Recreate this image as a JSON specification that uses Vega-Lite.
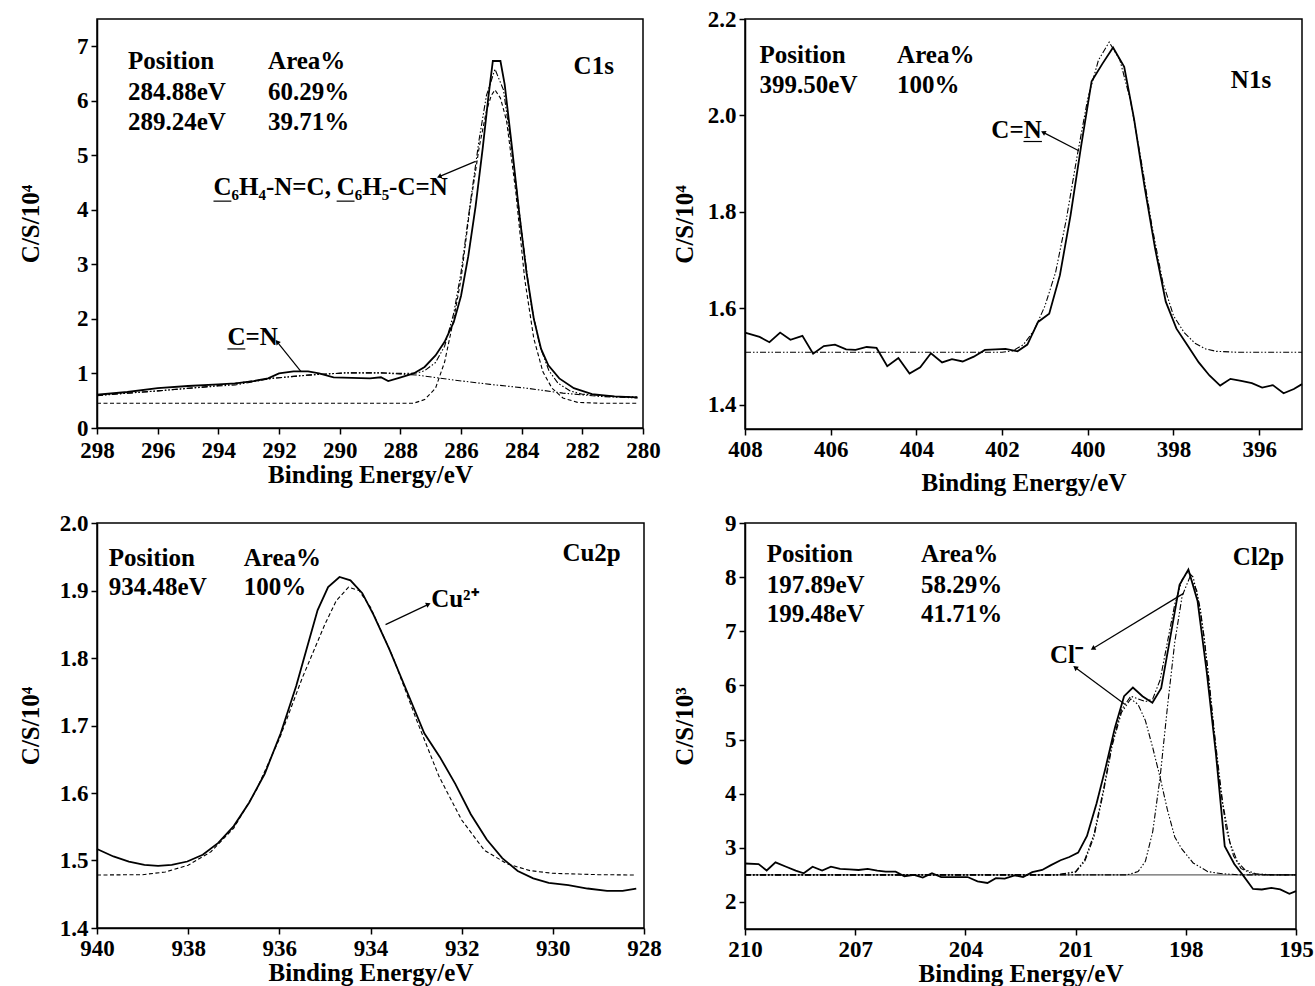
{
  "$schema": "https://vega.github.io/schema/vega-lite/v6.json",
  "background": "white",
  "padding": {"left": 17, "top": 7, "right": 0, "bottom": 0},
  "config": {
    "font": "Liberation Serif",
    "view": {"stroke": "black", "strokeWidth": 1.5},
    "axis": {
      "grid": false,
      "domainColor": "black",
      "domainWidth": 1.5,
      "tickColor": "black",
      "tickWidth": 1.5,
      "tickSize": 6,
      "labelFont": "Liberation Serif",
      "labelFontSize": 23,
      "labelFontWeight": "bold",
      "labelColor": "black",
      "labelPadding": 3,
      "labelFlush": false,
      "labelOverlap": false,
      "titleFont": "Liberation Serif",
      "titleFontSize": 25,
      "titleFontWeight": "bold",
      "titleColor": "black"
    },
    "text": {"font": "Liberation Serif", "fontWeight": "bold", "color": "black", "fontSize": 25},
    "line": {"color": "black"},
    "rule": {"color": "black", "strokeWidth": 1.2}
  },
  "datasets": {
    "c1s": [
      {"s": "measured", "e": 298, "v": 0.61}, {"s": "measured", "e": 297, "v": 0.66}, {"s": "measured", "e": 296, "v": 0.73},
      {"s": "measured", "e": 295, "v": 0.77}, {"s": "measured", "e": 294, "v": 0.8}, {"s": "measured", "e": 293.44, "v": 0.82},
      {"s": "measured", "e": 292.84, "v": 0.86}, {"s": "measured", "e": 292.36, "v": 0.91}, {"s": "measured", "e": 292.0, "v": 1.0},
      {"s": "measured", "e": 291.52, "v": 1.04}, {"s": "measured", "e": 291.04, "v": 1.04}, {"s": "measured", "e": 290.68, "v": 1.0},
      {"s": "measured", "e": 290.2, "v": 0.93}, {"s": "measured", "e": 289.6, "v": 0.92}, {"s": "measured", "e": 289.0, "v": 0.91},
      {"s": "measured", "e": 288.64, "v": 0.93}, {"s": "measured", "e": 288.4, "v": 0.86}, {"s": "measured", "e": 288.04, "v": 0.92},
      {"s": "measured", "e": 287.56, "v": 1.0}, {"s": "measured", "e": 287.2, "v": 1.12}, {"s": "measured", "e": 286.84, "v": 1.33},
      {"s": "measured", "e": 286.54, "v": 1.58}, {"s": "measured", "e": 286.24, "v": 1.94}, {"s": "measured", "e": 286.0, "v": 2.42},
      {"s": "measured", "e": 285.76, "v": 3.15}, {"s": "measured", "e": 285.52, "v": 4.06}, {"s": "measured", "e": 285.28, "v": 5.15},
      {"s": "measured", "e": 285.1, "v": 6.06}, {"s": "measured", "e": 284.95, "v": 6.73}, {"s": "measured", "e": 284.7, "v": 6.73},
      {"s": "measured", "e": 284.56, "v": 6.3}, {"s": "measured", "e": 284.32, "v": 5.15}, {"s": "measured", "e": 284.08, "v": 3.94},
      {"s": "measured", "e": 283.84, "v": 2.85}, {"s": "measured", "e": 283.6, "v": 2.0}, {"s": "measured", "e": 283.36, "v": 1.45},
      {"s": "measured", "e": 283.12, "v": 1.15}, {"s": "measured", "e": 282.76, "v": 0.91}, {"s": "measured", "e": 282.28, "v": 0.73},
      {"s": "measured", "e": 281.68, "v": 0.62}, {"s": "measured", "e": 280.96, "v": 0.58}, {"s": "measured", "e": 280.18, "v": 0.56},

      {"s": "envelope", "e": 298, "v": 0.6}, {"s": "envelope", "e": 296, "v": 0.68}, {"s": "envelope", "e": 294, "v": 0.78},
      {"s": "envelope", "e": 292.24, "v": 0.91}, {"s": "envelope", "e": 291.04, "v": 0.97}, {"s": "envelope", "e": 289.84, "v": 1.01},
      {"s": "envelope", "e": 288.64, "v": 1.01}, {"s": "envelope", "e": 287.8, "v": 1.0}, {"s": "envelope", "e": 287.44, "v": 1.01},
      {"s": "envelope", "e": 287.2, "v": 1.05}, {"s": "envelope", "e": 286.84, "v": 1.2}, {"s": "envelope", "e": 286.54, "v": 1.5},
      {"s": "envelope", "e": 286.24, "v": 2.1}, {"s": "envelope", "e": 286.0, "v": 2.85}, {"s": "envelope", "e": 285.7, "v": 4.1},
      {"s": "envelope", "e": 285.4, "v": 5.3}, {"s": "envelope", "e": 285.16, "v": 6.1}, {"s": "envelope", "e": 284.88, "v": 6.58},
      {"s": "envelope", "e": 284.6, "v": 6.2}, {"s": "envelope", "e": 284.3, "v": 5.0}, {"s": "envelope", "e": 284.0, "v": 3.6},
      {"s": "envelope", "e": 283.7, "v": 2.3}, {"s": "envelope", "e": 283.4, "v": 1.5}, {"s": "envelope", "e": 283.1, "v": 1.05},
      {"s": "envelope", "e": 282.8, "v": 0.82}, {"s": "envelope", "e": 282.4, "v": 0.68}, {"s": "envelope", "e": 282.0, "v": 0.62},
      {"s": "envelope", "e": 281.0, "v": 0.58}, {"s": "envelope", "e": 280.18, "v": 0.57},

      {"s": "284.88 eV", "e": 298, "v": 0.455}, {"s": "284.88 eV", "e": 287.56, "v": 0.455}, {"s": "284.88 eV", "e": 287.2, "v": 0.52},
      {"s": "284.88 eV", "e": 286.84, "v": 0.73}, {"s": "284.88 eV", "e": 286.54, "v": 1.21}, {"s": "284.88 eV", "e": 286.24, "v": 2.0},
      {"s": "284.88 eV", "e": 286.0, "v": 2.73}, {"s": "284.88 eV", "e": 285.7, "v": 4.06}, {"s": "284.88 eV", "e": 285.4, "v": 5.15},
      {"s": "284.88 eV", "e": 285.16, "v": 5.82}, {"s": "284.88 eV", "e": 285.0, "v": 6.1}, {"s": "284.88 eV", "e": 284.88, "v": 6.2},
      {"s": "284.88 eV", "e": 284.7, "v": 6.05}, {"s": "284.88 eV", "e": 284.5, "v": 5.64}, {"s": "284.88 eV", "e": 284.2, "v": 4.36},
      {"s": "284.88 eV", "e": 283.9, "v": 2.73}, {"s": "284.88 eV", "e": 283.6, "v": 1.64}, {"s": "284.88 eV", "e": 283.3, "v": 1.03},
      {"s": "284.88 eV", "e": 283.0, "v": 0.73}, {"s": "284.88 eV", "e": 282.64, "v": 0.55}, {"s": "284.88 eV", "e": 282.16, "v": 0.47},
      {"s": "284.88 eV", "e": 281.44, "v": 0.455}, {"s": "284.88 eV", "e": 280.18, "v": 0.455},

      {"s": "289.24 eV", "e": 298, "v": 0.594}, {"s": "289.24 eV", "e": 296, "v": 0.68}, {"s": "289.24 eV", "e": 294, "v": 0.77},
      {"s": "289.24 eV", "e": 293.44, "v": 0.79}, {"s": "289.24 eV", "e": 292.24, "v": 0.91}, {"s": "289.24 eV", "e": 291.04, "v": 0.97},
      {"s": "289.24 eV", "e": 289.84, "v": 1.01}, {"s": "289.24 eV", "e": 288.64, "v": 1.01}, {"s": "289.24 eV", "e": 287.44, "v": 0.97},
      {"s": "289.24 eV", "e": 286.24, "v": 0.88}, {"s": "289.24 eV", "e": 285.04, "v": 0.8}, {"s": "289.24 eV", "e": 283.84, "v": 0.73},
      {"s": "289.24 eV", "e": 282.64, "v": 0.64}, {"s": "289.24 eV", "e": 281.44, "v": 0.58}, {"s": "289.24 eV", "e": 280.18, "v": 0.55}
    ],
    "c1s_notes": [
      {"role": "note", "t": "Position", "e": 296.98, "v": 6.73},
      {"role": "note", "t": "Area%", "e": 292.36, "v": 6.73},
      {"role": "note", "t": "284.88eV", "e": 296.98, "v": 6.17},
      {"role": "note", "t": "60.29%", "e": 292.36, "v": 6.17},
      {"role": "note", "t": "289.24eV", "e": 296.98, "v": 5.62},
      {"role": "note", "t": "39.71%", "e": 292.36, "v": 5.62},
      {"role": "note", "t": "C₆H₄-N=C,", "e": 294.16, "v": 4.42},
      {"role": "note", "t": "C₆H₅-C=N", "e": 290.1, "v": 4.42},
      {"role": "note", "t": "C=N", "e": 293.7, "v": 1.67},
      {"role": "tag", "t": "C1s", "e": 280.96, "v": 6.64}
    ],
    "c1s_marks": [
      {"e": 285.52, "v": 4.89, "e2": 286.72, "v2": 4.61, "dir": 247},
      {"e": 291.28, "v": 1.04, "e2": 292.06, "v2": 1.58, "dir": 321},
      {"e": 294.16, "v": 4.16, "e2": 293.57, "v2": 4.16},
      {"e": 290.1, "v": 4.16, "e2": 289.51, "v2": 4.16},
      {"e": 293.7, "v": 1.45, "e2": 293.11, "v2": 1.45}
    ],
    "n1s": [
      {"s": "measured", "e": 408, "v": 1.55}, {"s": "measured", "e": 407.66, "v": 1.541}, {"s": "measured", "e": 407.43, "v": 1.53},
      {"s": "measured", "e": 407.18, "v": 1.55}, {"s": "measured", "e": 406.94, "v": 1.535}, {"s": "measured", "e": 406.66, "v": 1.543},
      {"s": "measured", "e": 406.41, "v": 1.506}, {"s": "measured", "e": 406.16, "v": 1.522}, {"s": "measured", "e": 405.9, "v": 1.525},
      {"s": "measured", "e": 405.64, "v": 1.515}, {"s": "measured", "e": 405.42, "v": 1.514}, {"s": "measured", "e": 405.16, "v": 1.52},
      {"s": "measured", "e": 404.93, "v": 1.518}, {"s": "measured", "e": 404.68, "v": 1.48}, {"s": "measured", "e": 404.42, "v": 1.497},
      {"s": "measured", "e": 404.16, "v": 1.465}, {"s": "measured", "e": 403.91, "v": 1.478}, {"s": "measured", "e": 403.66, "v": 1.507},
      {"s": "measured", "e": 403.4, "v": 1.488}, {"s": "measured", "e": 403.17, "v": 1.495}, {"s": "measured", "e": 402.92, "v": 1.49},
      {"s": "measured", "e": 402.66, "v": 1.5}, {"s": "measured", "e": 402.4, "v": 1.514}, {"s": "measured", "e": 402.15, "v": 1.515},
      {"s": "measured", "e": 401.92, "v": 1.516}, {"s": "measured", "e": 401.64, "v": 1.511}, {"s": "measured", "e": 401.41, "v": 1.525},
      {"s": "measured", "e": 401.16, "v": 1.572}, {"s": "measured", "e": 400.9, "v": 1.589}, {"s": "measured", "e": 400.65, "v": 1.669},
      {"s": "measured", "e": 400.4, "v": 1.794}, {"s": "measured", "e": 400.16, "v": 1.934}, {"s": "measured", "e": 399.91, "v": 2.071},
      {"s": "measured", "e": 399.66, "v": 2.107}, {"s": "measured", "e": 399.41, "v": 2.141}, {"s": "measured", "e": 399.15, "v": 2.101},
      {"s": "measured", "e": 398.92, "v": 1.993}, {"s": "measured", "e": 398.67, "v": 1.85}, {"s": "measured", "e": 398.43, "v": 1.725},
      {"s": "measured", "e": 398.18, "v": 1.614}, {"s": "measured", "e": 397.93, "v": 1.558}, {"s": "measured", "e": 397.67, "v": 1.523},
      {"s": "measured", "e": 397.41, "v": 1.488}, {"s": "measured", "e": 397.16, "v": 1.461}, {"s": "measured", "e": 396.91, "v": 1.44},
      {"s": "measured", "e": 396.67, "v": 1.454}, {"s": "measured", "e": 396.42, "v": 1.45}, {"s": "measured", "e": 396.17, "v": 1.445},
      {"s": "measured", "e": 395.93, "v": 1.436}, {"s": "measured", "e": 395.68, "v": 1.441}, {"s": "measured", "e": 395.43, "v": 1.424},
      {"s": "measured", "e": 395.19, "v": 1.433}, {"s": "measured", "e": 395.0, "v": 1.443},

      {"s": "399.50 eV", "e": 408, "v": 1.509}, {"s": "399.50 eV", "e": 402, "v": 1.509}, {"s": "399.50 eV", "e": 401.75, "v": 1.512},
      {"s": "399.50 eV", "e": 401.5, "v": 1.525}, {"s": "399.50 eV", "e": 401.25, "v": 1.555}, {"s": "399.50 eV", "e": 401.0, "v": 1.605},
      {"s": "399.50 eV", "e": 400.75, "v": 1.675}, {"s": "399.50 eV", "e": 400.5, "v": 1.785}, {"s": "399.50 eV", "e": 400.25, "v": 1.915},
      {"s": "399.50 eV", "e": 400.0, "v": 2.035}, {"s": "399.50 eV", "e": 399.75, "v": 2.115}, {"s": "399.50 eV", "e": 399.5, "v": 2.152},
      {"s": "399.50 eV", "e": 399.25, "v": 2.115}, {"s": "399.50 eV", "e": 399.0, "v": 2.03}, {"s": "399.50 eV", "e": 398.75, "v": 1.905},
      {"s": "399.50 eV", "e": 398.5, "v": 1.77}, {"s": "399.50 eV", "e": 398.25, "v": 1.655}, {"s": "399.50 eV", "e": 398.0, "v": 1.585},
      {"s": "399.50 eV", "e": 397.75, "v": 1.55}, {"s": "399.50 eV", "e": 397.5, "v": 1.528}, {"s": "399.50 eV", "e": 397.25, "v": 1.516},
      {"s": "399.50 eV", "e": 397.0, "v": 1.511}, {"s": "399.50 eV", "e": 396.5, "v": 1.509}, {"s": "399.50 eV", "e": 395, "v": 1.509}
    ],
    "n1s_notes": [
      {"role": "note", "t": "Position", "e": 407.66, "v": 2.125},
      {"role": "note", "t": "Area%", "e": 404.45, "v": 2.125},
      {"role": "note", "t": "399.50eV", "e": 407.66, "v": 2.064},
      {"role": "note", "t": "100%", "e": 404.45, "v": 2.064},
      {"role": "note", "t": "C=N", "e": 402.25, "v": 1.97},
      {"role": "tag", "t": "N1s", "e": 395.72, "v": 2.074}
    ],
    "n1s_marks": [
      {"e": 400.21, "v": 1.927, "e2": 401.04, "v2": 1.965, "dir": 297},
      {"e": 401.5, "v": 1.946, "e2": 401.07, "v2": 1.946}
    ],
    "cu2p": [
      {"s": "measured", "e": 940, "v": 1.517}, {"s": "measured", "e": 939.64, "v": 1.506}, {"s": "measured", "e": 939.3, "v": 1.4985},
      {"s": "measured", "e": 938.96, "v": 1.4935}, {"s": "measured", "e": 938.66, "v": 1.492}, {"s": "measured", "e": 938.36, "v": 1.4935},
      {"s": "measured", "e": 938.02, "v": 1.4985}, {"s": "measured", "e": 937.68, "v": 1.5085}, {"s": "measured", "e": 937.34, "v": 1.526},
      {"s": "measured", "e": 937.0, "v": 1.551}, {"s": "measured", "e": 936.66, "v": 1.586}, {"s": "measured", "e": 936.32, "v": 1.6285},
      {"s": "measured", "e": 935.97, "v": 1.6885}, {"s": "measured", "e": 935.63, "v": 1.7585}, {"s": "measured", "e": 935.38, "v": 1.8185},
      {"s": "measured", "e": 935.16, "v": 1.871}, {"s": "measured", "e": 934.93, "v": 1.905}, {"s": "measured", "e": 934.68, "v": 1.92},
      {"s": "measured", "e": 934.44, "v": 1.915}, {"s": "measured", "e": 934.18, "v": 1.896}, {"s": "measured", "e": 933.93, "v": 1.8635},
      {"s": "measured", "e": 933.59, "v": 1.8135}, {"s": "measured", "e": 933.25, "v": 1.7585}, {"s": "measured", "e": 932.82, "v": 1.6885},
      {"s": "measured", "e": 932.48, "v": 1.6535}, {"s": "measured", "e": 932.14, "v": 1.6135}, {"s": "measured", "e": 931.8, "v": 1.5685},
      {"s": "measured", "e": 931.45, "v": 1.531}, {"s": "measured", "e": 931.11, "v": 1.5035}, {"s": "measured", "e": 930.77, "v": 1.4845},
      {"s": "measured", "e": 930.43, "v": 1.4735}, {"s": "measured", "e": 930.09, "v": 1.467}, {"s": "measured", "e": 929.66, "v": 1.4635},
      {"s": "measured", "e": 929.24, "v": 1.4585}, {"s": "measured", "e": 928.81, "v": 1.455}, {"s": "measured", "e": 928.47, "v": 1.455},
      {"s": "measured", "e": 928.17, "v": 1.4585},

      {"s": "934.48 eV", "e": 940, "v": 1.4785}, {"s": "934.48 eV", "e": 939, "v": 1.479}, {"s": "934.48 eV", "e": 938.5, "v": 1.483},
      {"s": "934.48 eV", "e": 938, "v": 1.493}, {"s": "934.48 eV", "e": 937.5, "v": 1.513}, {"s": "934.48 eV", "e": 937, "v": 1.548},
      {"s": "934.48 eV", "e": 936.5, "v": 1.605}, {"s": "934.48 eV", "e": 936, "v": 1.68}, {"s": "934.48 eV", "e": 935.5, "v": 1.77},
      {"s": "934.48 eV", "e": 935, "v": 1.85}, {"s": "934.48 eV", "e": 934.75, "v": 1.885}, {"s": "934.48 eV", "e": 934.48, "v": 1.905},
      {"s": "934.48 eV", "e": 934.25, "v": 1.9}, {"s": "934.48 eV", "e": 934, "v": 1.875}, {"s": "934.48 eV", "e": 933.5, "v": 1.8},
      {"s": "934.48 eV", "e": 933, "v": 1.71}, {"s": "934.48 eV", "e": 932.5, "v": 1.625}, {"s": "934.48 eV", "e": 932, "v": 1.56},
      {"s": "934.48 eV", "e": 931.5, "v": 1.515}, {"s": "934.48 eV", "e": 931, "v": 1.495}, {"s": "934.48 eV", "e": 930.5, "v": 1.485},
      {"s": "934.48 eV", "e": 930, "v": 1.481}, {"s": "934.48 eV", "e": 929, "v": 1.479}, {"s": "934.48 eV", "e": 928.2, "v": 1.4785}
    ],
    "cu2p_notes": [
      {"role": "note", "t": "Position", "e": 939.74, "v": 1.9485},
      {"role": "note", "t": "Area%", "e": 936.78, "v": 1.9485},
      {"role": "note", "t": "934.48eV", "e": 939.74, "v": 1.9045},
      {"role": "note", "t": "100%", "e": 936.78, "v": 1.9045},
      {"role": "note", "t": "Cu²⁺", "e": 932.67, "v": 1.888},
      {"role": "tag", "t": "Cu2p", "e": 928.51, "v": 1.956}
    ],
    "cu2p_marks": [
      {"e": 933.67, "v": 1.8495, "e2": 932.73, "v2": 1.8795, "dir": 65}
    ],
    "cl2p": [
      {"s": "measured", "e": 210, "v": 2.71}, {"s": "measured", "e": 209.63, "v": 2.7}, {"s": "measured", "e": 209.41, "v": 2.58},
      {"s": "measured", "e": 209.17, "v": 2.73}, {"s": "measured", "e": 208.88, "v": 2.65}, {"s": "measured", "e": 208.62, "v": 2.58},
      {"s": "measured", "e": 208.4, "v": 2.53}, {"s": "measured", "e": 208.16, "v": 2.65}, {"s": "measured", "e": 207.9, "v": 2.58},
      {"s": "measured", "e": 207.66, "v": 2.65}, {"s": "measured", "e": 207.41, "v": 2.61}, {"s": "measured", "e": 207.16, "v": 2.6},
      {"s": "measured", "e": 206.91, "v": 2.59}, {"s": "measured", "e": 206.66, "v": 2.61}, {"s": "measured", "e": 206.4, "v": 2.58},
      {"s": "measured", "e": 206.17, "v": 2.56}, {"s": "measured", "e": 205.9, "v": 2.56}, {"s": "measured", "e": 205.66, "v": 2.475},
      {"s": "measured", "e": 205.4, "v": 2.5}, {"s": "measured", "e": 205.16, "v": 2.45}, {"s": "measured", "e": 204.91, "v": 2.53},
      {"s": "measured", "e": 204.66, "v": 2.46}, {"s": "measured", "e": 204.41, "v": 2.46}, {"s": "measured", "e": 204.17, "v": 2.46},
      {"s": "measured", "e": 203.94, "v": 2.46}, {"s": "measured", "e": 203.67, "v": 2.38}, {"s": "measured", "e": 203.4, "v": 2.35},
      {"s": "measured", "e": 203.17, "v": 2.44}, {"s": "measured", "e": 202.93, "v": 2.43}, {"s": "measured", "e": 202.66, "v": 2.49},
      {"s": "measured", "e": 202.43, "v": 2.46}, {"s": "measured", "e": 202.18, "v": 2.55}, {"s": "measured", "e": 201.91, "v": 2.59},
      {"s": "measured", "e": 201.67, "v": 2.68}, {"s": "measured", "e": 201.41, "v": 2.77}, {"s": "measured", "e": 201.17, "v": 2.83},
      {"s": "measured", "e": 200.93, "v": 2.91}, {"s": "measured", "e": 200.69, "v": 3.22}, {"s": "measured", "e": 200.43, "v": 3.82},
      {"s": "measured", "e": 200.18, "v": 4.49}, {"s": "measured", "e": 199.93, "v": 5.22}, {"s": "measured", "e": 199.68, "v": 5.8},
      {"s": "measured", "e": 199.44, "v": 5.96}, {"s": "measured", "e": 199.18, "v": 5.8}, {"s": "measured", "e": 198.91, "v": 5.68},
      {"s": "measured", "e": 198.67, "v": 5.95}, {"s": "measured", "e": 198.43, "v": 6.86}, {"s": "measured", "e": 198.17, "v": 7.86},
      {"s": "measured", "e": 197.93, "v": 8.14}, {"s": "measured", "e": 197.68, "v": 7.56}, {"s": "measured", "e": 197.43, "v": 6.25},
      {"s": "measured", "e": 197.18, "v": 4.74}, {"s": "measured", "e": 196.94, "v": 3.03}, {"s": "measured", "e": 196.68, "v": 2.7},
      {"s": "measured", "e": 196.44, "v": 2.49}, {"s": "measured", "e": 196.17, "v": 2.24}, {"s": "measured", "e": 195.93, "v": 2.23},
      {"s": "measured", "e": 195.67, "v": 2.26}, {"s": "measured", "e": 195.43, "v": 2.23}, {"s": "measured", "e": 195.18, "v": 2.15},
      {"s": "measured", "e": 195.0, "v": 2.2},

      {"s": "background", "e": 210, "v": 2.5}, {"s": "background", "e": 195, "v": 2.5},

      {"s": "envelope", "e": 210, "v": 2.5}, {"s": "envelope", "e": 201.5, "v": 2.5}, {"s": "envelope", "e": 201.0, "v": 2.56},
      {"s": "envelope", "e": 200.75, "v": 2.78}, {"s": "envelope", "e": 200.5, "v": 3.25}, {"s": "envelope", "e": 200.25, "v": 4.05},
      {"s": "envelope", "e": 200.0, "v": 4.95}, {"s": "envelope", "e": 199.75, "v": 5.55}, {"s": "envelope", "e": 199.5, "v": 5.8},
      {"s": "envelope", "e": 199.3, "v": 5.75}, {"s": "envelope", "e": 199.1, "v": 5.7}, {"s": "envelope", "e": 198.9, "v": 5.75},
      {"s": "envelope", "e": 198.7, "v": 6.1}, {"s": "envelope", "e": 198.5, "v": 6.8}, {"s": "envelope", "e": 198.3, "v": 7.5},
      {"s": "envelope", "e": 198.1, "v": 7.95}, {"s": "envelope", "e": 197.95, "v": 8.1}, {"s": "envelope", "e": 197.8, "v": 8.0},
      {"s": "envelope", "e": 197.6, "v": 7.4}, {"s": "envelope", "e": 197.4, "v": 6.3}, {"s": "envelope", "e": 197.2, "v": 5.0},
      {"s": "envelope", "e": 197.0, "v": 3.85}, {"s": "envelope", "e": 196.8, "v": 3.1}, {"s": "envelope", "e": 196.6, "v": 2.75},
      {"s": "envelope", "e": 196.4, "v": 2.6}, {"s": "envelope", "e": 196.1, "v": 2.52}, {"s": "envelope", "e": 195.6, "v": 2.5},
      {"s": "envelope", "e": 195, "v": 2.5},

      {"s": "199.48 eV", "e": 210, "v": 2.5}, {"s": "199.48 eV", "e": 201.5, "v": 2.5}, {"s": "199.48 eV", "e": 201.0, "v": 2.55},
      {"s": "199.48 eV", "e": 200.75, "v": 2.75}, {"s": "199.48 eV", "e": 200.5, "v": 3.2}, {"s": "199.48 eV", "e": 200.25, "v": 4.0},
      {"s": "199.48 eV", "e": 200.0, "v": 4.9}, {"s": "199.48 eV", "e": 199.75, "v": 5.5}, {"s": "199.48 eV", "e": 199.5, "v": 5.75},
      {"s": "199.48 eV", "e": 199.3, "v": 5.65}, {"s": "199.48 eV", "e": 199.1, "v": 5.35}, {"s": "199.48 eV", "e": 198.9, "v": 4.85},
      {"s": "199.48 eV", "e": 198.7, "v": 4.3}, {"s": "199.48 eV", "e": 198.5, "v": 3.7}, {"s": "199.48 eV", "e": 198.3, "v": 3.2},
      {"s": "199.48 eV", "e": 198.1, "v": 2.97}, {"s": "199.48 eV", "e": 197.8, "v": 2.72}, {"s": "199.48 eV", "e": 197.4, "v": 2.56},
      {"s": "199.48 eV", "e": 197.0, "v": 2.52}, {"s": "199.48 eV", "e": 196.5, "v": 2.5}, {"s": "199.48 eV", "e": 195, "v": 2.5},

      {"s": "197.89 eV", "e": 210, "v": 2.5}, {"s": "197.89 eV", "e": 199.6, "v": 2.5}, {"s": "197.89 eV", "e": 199.3, "v": 2.56},
      {"s": "197.89 eV", "e": 199.1, "v": 2.75}, {"s": "197.89 eV", "e": 198.9, "v": 3.3}, {"s": "197.89 eV", "e": 198.7, "v": 4.3},
      {"s": "197.89 eV", "e": 198.5, "v": 5.6}, {"s": "197.89 eV", "e": 198.3, "v": 6.8}, {"s": "197.89 eV", "e": 198.1, "v": 7.65},
      {"s": "197.89 eV", "e": 197.89, "v": 8.0}, {"s": "197.89 eV", "e": 197.7, "v": 7.75}, {"s": "197.89 eV", "e": 197.5, "v": 6.9},
      {"s": "197.89 eV", "e": 197.3, "v": 5.6}, {"s": "197.89 eV", "e": 197.1, "v": 4.3}, {"s": "197.89 eV", "e": 196.9, "v": 3.35},
      {"s": "197.89 eV", "e": 196.7, "v": 2.85}, {"s": "197.89 eV", "e": 196.5, "v": 2.62}, {"s": "197.89 eV", "e": 196.2, "v": 2.52},
      {"s": "197.89 eV", "e": 195.8, "v": 2.5}, {"s": "197.89 eV", "e": 195, "v": 2.5}
    ],
    "cl2p_notes": [
      {"role": "note", "t": "Position", "e": 209.41, "v": 8.42},
      {"role": "note", "t": "Area%", "e": 205.21, "v": 8.42},
      {"role": "note", "t": "197.89eV", "e": 209.41, "v": 7.85},
      {"role": "note", "t": "58.29%", "e": 205.21, "v": 7.85},
      {"role": "note", "t": "199.48eV", "e": 209.41, "v": 7.32},
      {"role": "note", "t": "41.71%", "e": 205.21, "v": 7.32},
      {"role": "note", "t": "Cl⁻", "e": 201.7, "v": 6.56},
      {"role": "tag", "t": "Cl2p", "e": 195.32, "v": 8.38}
    ],
    "cl2p_marks": [
      {"e": 198.06, "v": 7.7, "e2": 200.53, "v2": 6.68, "dir": 238},
      {"e": 199.66, "v": 5.65, "e2": 201.01, "v2": 6.33, "dir": 307}
    ]
  },
  "columns": 2,
  "spacing": {"row": 15, "column": 9},
  "concat": [
    {
      "width": 546,
      "height": 409,
      "layer": [
        {
          "data": {"name": "c1s"},
          "transform": [{"filter": "datum.s !== 'measured'"}],
          "mark": {"type": "line", "color": "black", "strokeWidth": 1.1},
          "encoding": {
            "x": {"field": "e", "type": "quantitative",
              "scale": {"domain": [280, 298], "reverse": true, "nice": false, "zero": false},
              "axis": {"title": "Binding Energy/eV", "values": [298, 296, 294, 292, 290, 288, 286, 284, 282, 280], "format": "d", "labelPadding": 5, "titlePadding": 0}},
            "y": {"field": "v", "type": "quantitative",
              "scale": {"domain": [0, 7.5], "nice": false, "zero": false},
              "axis": {"title": "C/S/10⁴", "values": [0, 1, 2, 3, 4, 5, 6, 7], "format": "d", "titlePadding": 33}},
            "detail": {"field": "s"},
            "strokeDash": {"field": "s", "type": "nominal", "legend": null,
              "scale": {"domain": ["envelope", "284.88 eV", "289.24 eV"], "range": [[6, 2, 1.5, 2, 1.5, 2], [4, 2.5], [6, 2, 1.5, 2, 1.5, 2]]}}
          }
        },
        {
          "data": {"name": "c1s"},
          "transform": [{"filter": "datum.s === 'measured'"}],
          "mark": {"type": "line", "color": "black", "strokeWidth": 1.8},
          "encoding": {"x": {"field": "e", "type": "quantitative"}, "y": {"field": "v", "type": "quantitative"}}
        },
        {
          "data": {"name": "c1s_marks"},
          "mark": {"type": "rule", "color": "black", "strokeWidth": 1.2},
          "encoding": {"x": {"field": "e", "type": "quantitative"}, "y": {"field": "v", "type": "quantitative"},
            "x2": {"field": "e2"}, "y2": {"field": "v2"}}
        },
        {
          "data": {"name": "c1s_marks"},
          "transform": [{"filter": "isValid(datum.dir)"}],
          "mark": {"type": "point", "shape": "triangle-up", "filled": true, "color": "black", "size": 30, "opacity": 1},
          "encoding": {"x": {"field": "e2", "type": "quantitative"}, "y": {"field": "v2", "type": "quantitative"},
            "angle": {"field": "dir", "type": "quantitative", "scale": null}}
        },
        {
          "data": {"name": "c1s_notes"},
          "transform": [{"filter": "datum.role === 'note'"}],
          "mark": {"type": "text", "align": "left", "baseline": "middle", "fontSize": 25},
          "encoding": {"x": {"field": "e", "type": "quantitative"}, "y": {"field": "v", "type": "quantitative"}, "text": {"field": "t"}}
        },
        {
          "data": {"name": "c1s_notes"},
          "transform": [{"filter": "datum.role === 'tag'"}],
          "mark": {"type": "text", "align": "right", "baseline": "middle", "fontSize": 25},
          "encoding": {"x": {"field": "e", "type": "quantitative"}, "y": {"field": "v", "type": "quantitative"}, "text": {"field": "t"}}
        }
      ]
    },
    {
      "width": 557,
      "height": 410,
      "layer": [
        {
          "data": {"name": "n1s"},
          "transform": [{"filter": "datum.s !== 'measured'"}],
          "mark": {"type": "line", "color": "black", "strokeWidth": 1.1},
          "encoding": {
            "x": {"field": "e", "type": "quantitative",
              "scale": {"domain": [395, 408], "reverse": true, "nice": false, "zero": false},
              "axis": {"title": "Binding Energy/eV", "values": [408, 406, 404, 402, 400, 398, 396], "format": "d", "titlePadding": 9}},
            "y": {"field": "v", "type": "quantitative",
              "scale": {"domain": [1.35, 2.2], "nice": false, "zero": false},
              "axis": {"title": "C/S/10⁴", "values": [1.4, 1.6, 1.8, 2.0, 2.2], "format": ".1f", "titlePadding": 10}},
            "detail": {"field": "s"},
            "strokeDash": {"field": "s", "type": "nominal", "legend": null,
              "scale": {"domain": ["399.50 eV"], "range": [[6, 2, 1.5, 2, 1.5, 2]]}}
          }
        },
        {
          "data": {"name": "n1s"},
          "transform": [{"filter": "datum.s === 'measured'"}],
          "mark": {"type": "line", "color": "black", "strokeWidth": 1.8},
          "encoding": {"x": {"field": "e", "type": "quantitative"}, "y": {"field": "v", "type": "quantitative"}}
        },
        {
          "data": {"name": "n1s_marks"},
          "mark": {"type": "rule", "color": "black", "strokeWidth": 1.2},
          "encoding": {"x": {"field": "e", "type": "quantitative"}, "y": {"field": "v", "type": "quantitative"},
            "x2": {"field": "e2"}, "y2": {"field": "v2"}}
        },
        {
          "data": {"name": "n1s_marks"},
          "transform": [{"filter": "isValid(datum.dir)"}],
          "mark": {"type": "point", "shape": "triangle-up", "filled": true, "color": "black", "size": 30, "opacity": 1},
          "encoding": {"x": {"field": "e2", "type": "quantitative"}, "y": {"field": "v2", "type": "quantitative"},
            "angle": {"field": "dir", "type": "quantitative", "scale": null}}
        },
        {
          "data": {"name": "n1s_notes"},
          "transform": [{"filter": "datum.role === 'note'"}],
          "mark": {"type": "text", "align": "left", "baseline": "middle", "fontSize": 25},
          "encoding": {"x": {"field": "e", "type": "quantitative"}, "y": {"field": "v", "type": "quantitative"}, "text": {"field": "t"}}
        },
        {
          "data": {"name": "n1s_notes"},
          "transform": [{"filter": "datum.role === 'tag'"}],
          "mark": {"type": "text", "align": "right", "baseline": "middle", "fontSize": 25},
          "encoding": {"x": {"field": "e", "type": "quantitative"}, "y": {"field": "v", "type": "quantitative"}, "text": {"field": "t"}}
        }
      ]
    },
    {
      "width": 547,
      "height": 405,
      "layer": [
        {
          "data": {"name": "cu2p"},
          "transform": [{"filter": "datum.s !== 'measured'"}],
          "mark": {"type": "line", "color": "black", "strokeWidth": 1.1},
          "encoding": {
            "x": {"field": "e", "type": "quantitative",
              "scale": {"domain": [928, 940], "reverse": true, "nice": false, "zero": false},
              "axis": {"title": "Binding Energy/eV", "values": [940, 938, 936, 934, 932, 930, 928], "format": "d", "titlePadding": 0}},
            "y": {"field": "v", "type": "quantitative",
              "scale": {"domain": [1.4, 2.0], "nice": false, "zero": false},
              "axis": {"title": "C/S/10⁴", "values": [1.4, 1.5, 1.6, 1.7, 1.8, 1.9, 2.0], "format": ".1f", "titlePadding": 16}},
            "detail": {"field": "s"},
            "strokeDash": {"field": "s", "type": "nominal", "legend": null,
              "scale": {"domain": ["934.48 eV"], "range": [[6, 2, 1.5, 2, 1.5, 2]]}}
          }
        },
        {
          "data": {"name": "cu2p"},
          "transform": [{"filter": "datum.s === 'measured'"}],
          "mark": {"type": "line", "color": "black", "strokeWidth": 1.8},
          "encoding": {"x": {"field": "e", "type": "quantitative"}, "y": {"field": "v", "type": "quantitative"}}
        },
        {
          "data": {"name": "cu2p_marks"},
          "mark": {"type": "rule", "color": "black", "strokeWidth": 1.2},
          "encoding": {"x": {"field": "e", "type": "quantitative"}, "y": {"field": "v", "type": "quantitative"},
            "x2": {"field": "e2"}, "y2": {"field": "v2"}}
        },
        {
          "data": {"name": "cu2p_marks"},
          "transform": [{"filter": "isValid(datum.dir)"}],
          "mark": {"type": "point", "shape": "triangle-up", "filled": true, "color": "black", "size": 30, "opacity": 1},
          "encoding": {"x": {"field": "e2", "type": "quantitative"}, "y": {"field": "v2", "type": "quantitative"},
            "angle": {"field": "dir", "type": "quantitative", "scale": null}}
        },
        {
          "data": {"name": "cu2p_notes"},
          "transform": [{"filter": "datum.role === 'note'"}],
          "mark": {"type": "text", "align": "left", "baseline": "middle", "fontSize": 25},
          "encoding": {"x": {"field": "e", "type": "quantitative"}, "y": {"field": "v", "type": "quantitative"}, "text": {"field": "t"}}
        },
        {
          "data": {"name": "cu2p_notes"},
          "transform": [{"filter": "datum.role === 'tag'"}],
          "mark": {"type": "text", "align": "right", "baseline": "middle", "fontSize": 25},
          "encoding": {"x": {"field": "e", "type": "quantitative"}, "y": {"field": "v", "type": "quantitative"}, "text": {"field": "t"}}
        }
      ]
    },
    {
      "width": 551,
      "height": 406,
      "layer": [
        {
          "data": {"name": "cl2p"},
          "transform": [{"filter": "datum.s === 'background'"}],
          "mark": {"type": "line", "color": "#666666", "strokeWidth": 1.3},
          "encoding": {
            "x": {"field": "e", "type": "quantitative",
              "scale": {"domain": [195, 210], "reverse": true, "nice": false, "zero": false},
              "axis": {"title": "Binding Energy/eV", "values": [210, 207, 204, 201, 198, 195], "format": "d", "titlePadding": 0}},
            "y": {"field": "v", "type": "quantitative",
              "scale": {"domain": [1.5, 9], "nice": false, "zero": false},
              "axis": {"title": "C/S/10³", "values": [2, 3, 4, 5, 6, 7, 8, 9], "format": "d", "titlePadding": 27}}
          }
        },
        {
          "data": {"name": "cl2p"},
          "transform": [{"filter": "datum.s !== 'measured' && datum.s !== 'background'"}],
          "mark": {"type": "line", "color": "black", "strokeWidth": 1.1},
          "encoding": {
            "x": {"field": "e", "type": "quantitative"},
            "y": {"field": "v", "type": "quantitative"},
            "detail": {"field": "s"},
            "strokeDash": {"field": "s", "type": "nominal", "legend": null,
              "scale": {"domain": ["envelope", "199.48 eV", "197.89 eV"], "range": [[4, 2.5], [6, 2, 1.5, 2, 1.5, 2], [6, 2, 1.5, 2, 1.5, 2]]}}
          }
        },
        {
          "data": {"name": "cl2p"},
          "transform": [{"filter": "datum.s === 'measured'"}],
          "mark": {"type": "line", "color": "black", "strokeWidth": 1.8},
          "encoding": {"x": {"field": "e", "type": "quantitative"}, "y": {"field": "v", "type": "quantitative"}}
        },
        {
          "data": {"name": "cl2p_marks"},
          "mark": {"type": "rule", "color": "black", "strokeWidth": 1.2},
          "encoding": {"x": {"field": "e", "type": "quantitative"}, "y": {"field": "v", "type": "quantitative"},
            "x2": {"field": "e2"}, "y2": {"field": "v2"}}
        },
        {
          "data": {"name": "cl2p_marks"},
          "transform": [{"filter": "isValid(datum.dir)"}],
          "mark": {"type": "point", "shape": "triangle-up", "filled": true, "color": "black", "size": 30, "opacity": 1},
          "encoding": {"x": {"field": "e2", "type": "quantitative"}, "y": {"field": "v2", "type": "quantitative"},
            "angle": {"field": "dir", "type": "quantitative", "scale": null}}
        },
        {
          "data": {"name": "cl2p_notes"},
          "transform": [{"filter": "datum.role === 'note'"}],
          "mark": {"type": "text", "align": "left", "baseline": "middle", "fontSize": 25},
          "encoding": {"x": {"field": "e", "type": "quantitative"}, "y": {"field": "v", "type": "quantitative"}, "text": {"field": "t"}}
        },
        {
          "data": {"name": "cl2p_notes"},
          "transform": [{"filter": "datum.role === 'tag'"}],
          "mark": {"type": "text", "align": "right", "baseline": "middle", "fontSize": 25},
          "encoding": {"x": {"field": "e", "type": "quantitative"}, "y": {"field": "v", "type": "quantitative"}, "text": {"field": "t"}}
        }
      ]
    }
  ]
}
